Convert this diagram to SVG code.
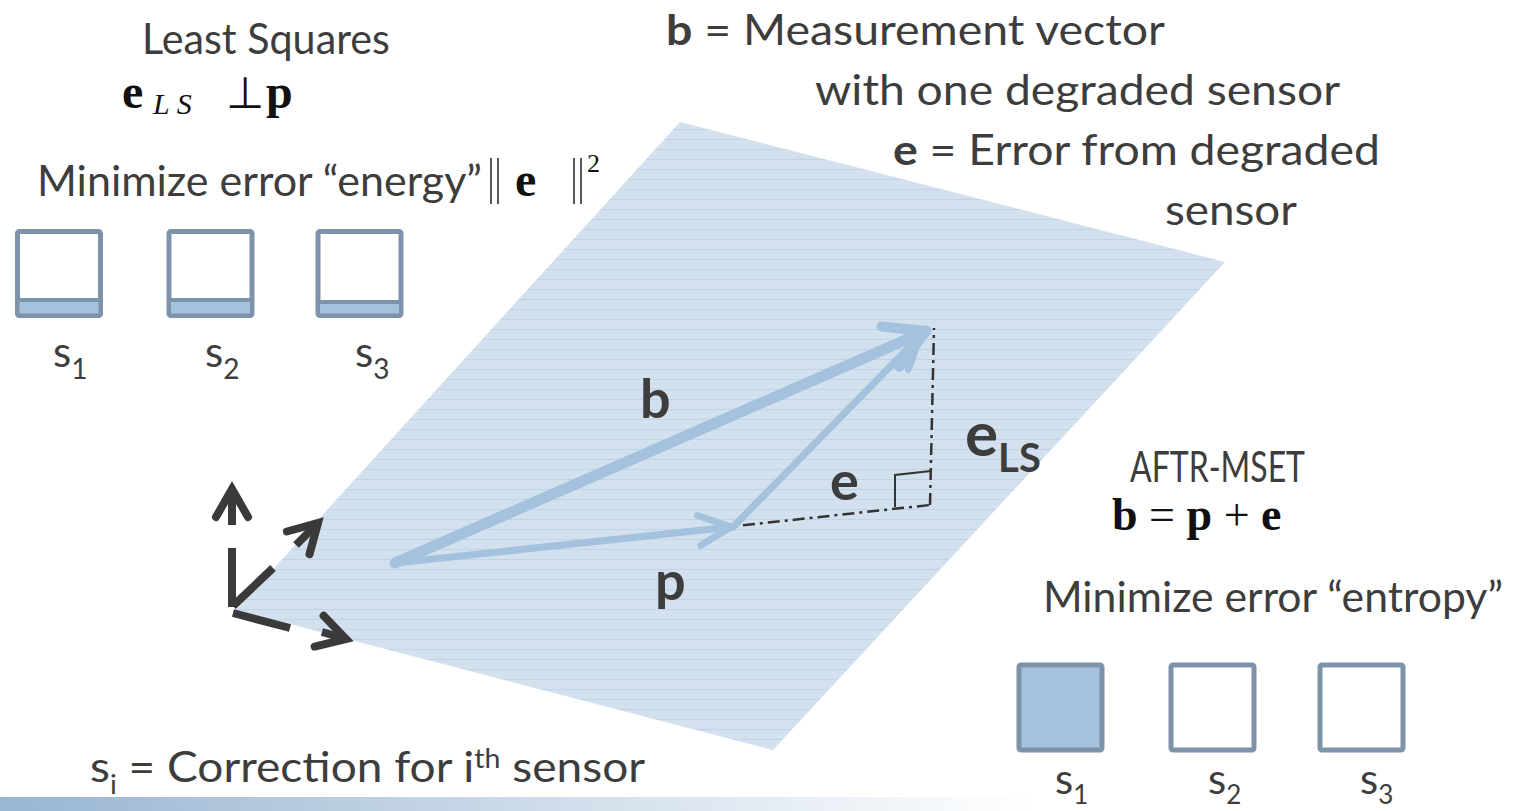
<svg xmlns="http://www.w3.org/2000/svg" width="1521" height="811" viewBox="0 0 1521 811">
<defs>
  <pattern id="stripes" patternUnits="userSpaceOnUse" width="12" height="10">
    <rect width="12" height="10" fill="#d3e1ee"/>
    <line x1="0" y1="9.5" x2="12" y2="9.5" stroke="#c1d4e7" stroke-width="1"/>
  </pattern>
  <linearGradient id="bar" x1="0" y1="0" x2="1" y2="0">
    <stop offset="0" stop-color="#98b5d2"/>
    <stop offset="0.68" stop-color="#ffffff"/>
  </linearGradient>
  <marker id="headBig" markerUnits="userSpaceOnUse" viewBox="-50 -30 60 60" refX="0" refY="0" markerWidth="60" markerHeight="60" orient="auto">
    <path d="M-39,-22 L0,0 L-39,22" fill="none" stroke="#a4c2dd" stroke-width="10" stroke-linecap="round" stroke-linejoin="round"/>
  </marker>
  <marker id="headMid" markerUnits="userSpaceOnUse" viewBox="-40 -25 50 50" refX="0" refY="0" markerWidth="50" markerHeight="50" orient="auto">
    <path d="M-32,-15 L0,0 L-32,15" fill="none" stroke="#a4c2dd" stroke-width="7" stroke-linecap="round" stroke-linejoin="round"/>
  </marker>
  <marker id="headDark" markerUnits="userSpaceOnUse" viewBox="-40 -25 50 50" refX="0" refY="0" markerWidth="50" markerHeight="50" orient="auto">
    <path d="M-28,-16 L0,0 L-28,16" fill="none" stroke="#3a3a3a" stroke-width="8" stroke-linecap="round" stroke-linejoin="miter"/>
  </marker>
</defs>
<style>
  .t { font-family: Lato, "Liberation Sans", sans-serif; font-size: 42px; fill: #3d3d3d; }
  .tb { font-family: Lato, "Liberation Sans", sans-serif; font-weight: bold; fill: #3d3d3d; }
  .m { font-family: "Liberation Serif", serif; fill: #111; }
  .box { fill: #ffffff; stroke: #7c93a9; stroke-width: 5; }
  .boxf { fill: #a5c2dd; stroke: #7c93a9; stroke-width: 5; }
  .strip { fill: #a5c2dd; stroke: #7c93a9; stroke-width: 4; }
  .vec { fill: none; stroke: #a4c2dd; stroke-linecap: round; }
  .dd { fill: none; stroke: #333; stroke-width: 2.5; stroke-dasharray: 12 5 3 5; }
  .ax { fill: none; stroke: #3a3a3a; stroke-width: 8; stroke-linecap: butt; }
  .norm { stroke: #222; stroke-width: 1.5; }
</style>

<rect width="1521" height="811" fill="#ffffff"/>

<g id="plane">
  <polygon points="680,122 1225,262 773,750 236,610" fill="url(#stripes)"/>
</g>

<rect id="bottom-bar" x="0" y="797" width="1521" height="14" fill="url(#bar)"/>

<g id="least-squares">
  <text class="t" x="142" y="54" textLength="248" lengthAdjust="spacingAndGlyphs">Least Squares</text>
  <text class="m" y="108"><tspan x="122" font-weight="bold" font-size="48">e</tspan><tspan x="153" y="114" font-style="italic" font-size="30">L S</tspan><tspan x="226" y="108" font-size="44">⊥</tspan><tspan x="266" font-weight="bold" font-size="48">p</tspan></text>
  <text class="t" x="37" y="196" textLength="445" lengthAdjust="spacingAndGlyphs">Minimize error “energy”</text>
  <line class="norm" x1="491" y1="158" x2="491" y2="204"/>
  <line class="norm" x1="498" y1="158" x2="498" y2="204"/>
  <text class="m" x="515" y="196" font-weight="bold" font-size="48">e</text>
  <line class="norm" x1="574" y1="158" x2="574" y2="204"/>
  <line class="norm" x1="581" y1="158" x2="581" y2="204"/>
  <text class="m" x="587" y="172" font-size="26">2</text>
</g>

<g id="ls-sensor-1">
  <rect class="box" x="17.5" y="231.5" width="83" height="84" rx="2"/>
  <rect class="strip" x="17.5" y="300" width="83" height="15.5" rx="2"/>
  <text class="t" x="53" y="367">s<tspan font-size="28" dy="12">1</tspan></text>
</g>
<g id="ls-sensor-2">
  <rect class="box" x="169" y="231.5" width="83" height="84" rx="2"/>
  <rect class="strip" x="169" y="300" width="83" height="15.5" rx="2"/>
  <text class="t" x="205" y="367">s<tspan font-size="28" dy="12">2</tspan></text>
</g>
<g id="ls-sensor-3">
  <rect class="box" x="318" y="231.5" width="83" height="84" rx="2"/>
  <rect class="strip" x="318" y="302" width="83" height="13.5" rx="2"/>
  <text class="t" x="355" y="367">s<tspan font-size="28" dy="12">3</tspan></text>
</g>

<g id="definitions">
  <text class="t" x="666" y="45" textLength="499" lengthAdjust="spacingAndGlyphs"><tspan font-weight="bold">b</tspan> = Measurement vector</text>
  <text class="t" x="815" y="105" textLength="525" lengthAdjust="spacingAndGlyphs">with one degraded sensor</text>
  <text class="t" x="893" y="165" textLength="487" lengthAdjust="spacingAndGlyphs"><tspan font-weight="bold">e</tspan> = Error from degraded</text>
  <text class="t" x="1165" y="225" textLength="132" lengthAdjust="spacingAndGlyphs">sensor</text>
</g>

<g id="axes">
  <line class="ax" x1="232" y1="607" x2="232" y2="548"/>
  <line class="ax" x1="232" y1="525" x2="232" y2="489" marker-end="url(#headDark)"/>
  <line class="ax" x1="233" y1="606" x2="273" y2="568"/>
  <line class="ax" x1="296" y1="545" x2="318" y2="523" marker-end="url(#headDark)"/>
  <line class="ax" x1="233" y1="613" x2="290" y2="628"/>
  <line class="ax" x1="322" y1="632" x2="346" y2="639" marker-end="url(#headDark)"/>
</g>

<g id="connectors">
  <line class="dd" x1="395" y1="563" x2="930" y2="505"/>
  <line class="dd" x1="930" y1="505" x2="934" y2="328"/>
  <polyline points="895,507 895,475 931,471" fill="none" stroke="#333" stroke-width="2"/>
  <line class="vec" x1="395" y1="563" x2="731" y2="527" stroke-width="7" marker-end="url(#headMid)"/>
  <line class="vec" x1="733" y1="527" x2="920" y2="336" stroke-width="7" marker-end="url(#headMid)"/>
  <line class="vec" x1="395" y1="563" x2="926" y2="331" stroke-width="11" marker-end="url(#headBig)"/>
</g>

<g id="vector-labels">
  <text class="tb" x="640" y="418" font-size="54">b</text>
  <text class="tb" x="830" y="500" font-size="54">e</text>
  <text class="tb" x="965" y="456" font-size="62">e<tspan font-size="40" dy="16">LS</tspan></text>
  <text class="tb" x="655" y="600" font-size="54">p</text>
</g>

<g id="aftr-mset">
  <text class="t" x="1130" y="482" textLength="175" lengthAdjust="spacingAndGlyphs">AFTR-MSET</text>
  <text class="m" x="1112" y="530" font-size="46"><tspan font-weight="bold">b</tspan> = <tspan font-weight="bold">p</tspan> + <tspan font-weight="bold">e</tspan></text>
  <text class="t" x="1043" y="612" textLength="460" lengthAdjust="spacingAndGlyphs">Minimize error “entropy”</text>
</g>

<g id="mset-sensor-1">
  <rect class="boxf" x="1019" y="665" width="83" height="85" rx="2"/>
  <text class="t" x="1055" y="794">s<tspan font-size="26" dy="10">1</tspan></text>
</g>
<g id="mset-sensor-2">
  <rect class="box" x="1171" y="665" width="83" height="85" rx="2"/>
  <text class="t" x="1208" y="794">s<tspan font-size="26" dy="10">2</tspan></text>
</g>
<g id="mset-sensor-3">
  <rect class="box" x="1320" y="665" width="83" height="85" rx="2"/>
  <text class="t" x="1360" y="794">s<tspan font-size="26" dy="10">3</tspan></text>
</g>

<g id="footnote">
  <text class="t" x="90" y="782" textLength="555" lengthAdjust="spacingAndGlyphs">s<tspan font-size="26" dy="12">i</tspan><tspan dy="-12"> = Correction for i</tspan><tspan font-size="26" dy="-14">th</tspan><tspan dy="14"> sensor</tspan></text>
</g>
</svg>
